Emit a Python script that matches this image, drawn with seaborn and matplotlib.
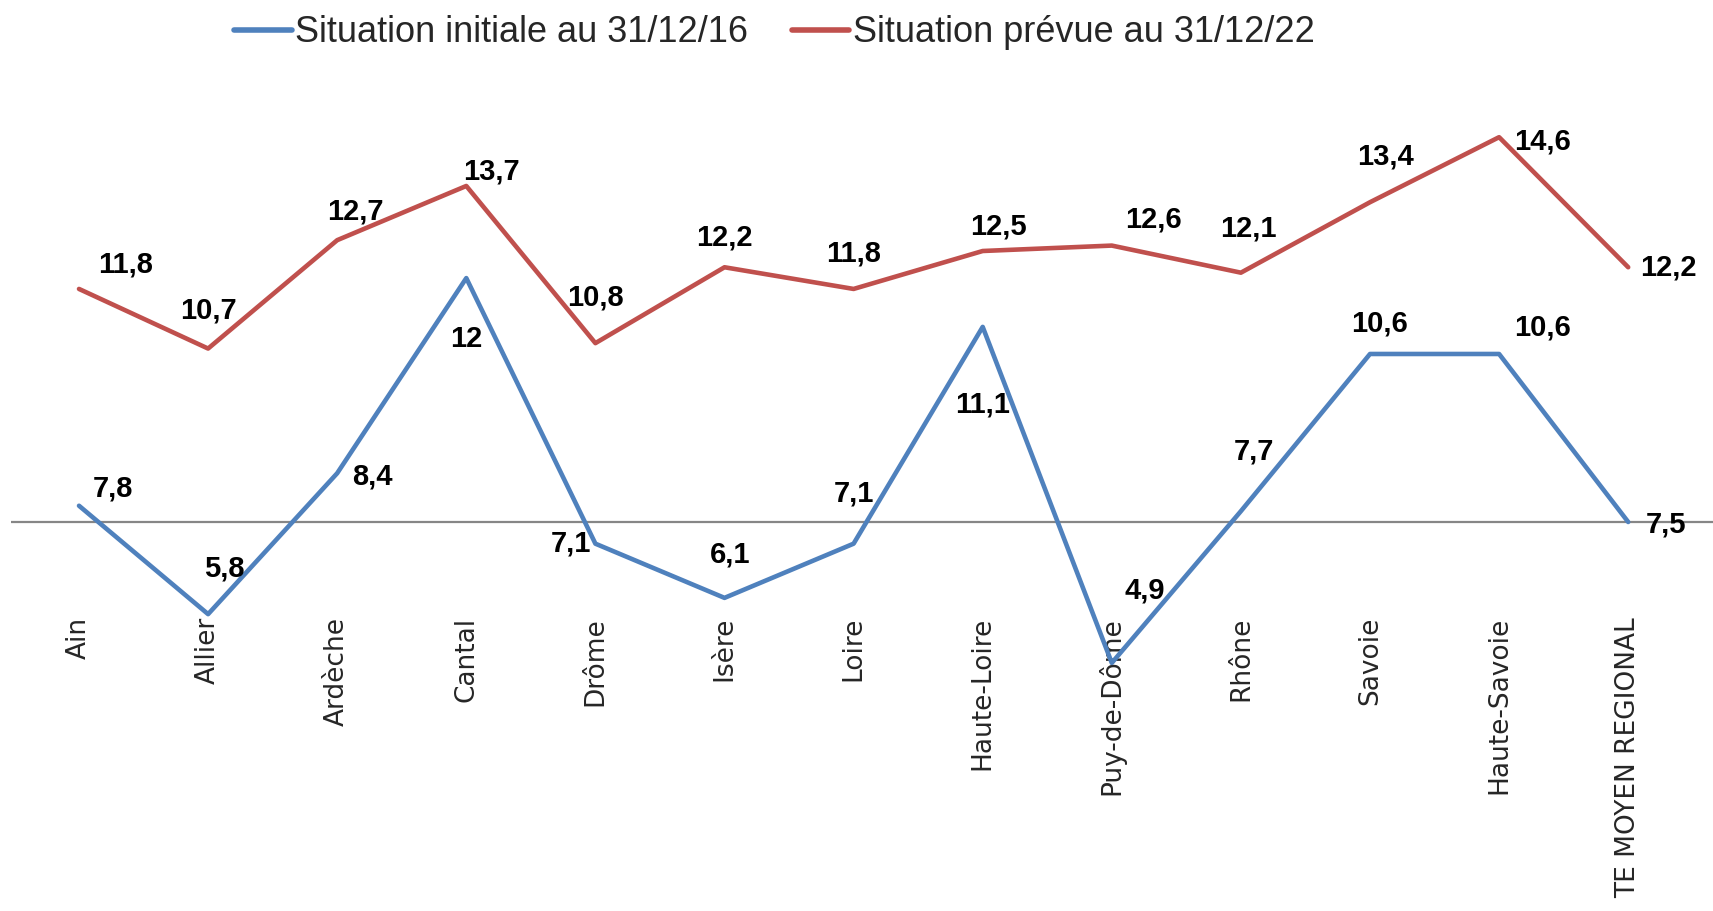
import numpy as np
import pandas as pd
import seaborn as sns
import matplotlib
matplotlib.use("Agg")
import matplotlib.pyplot as plt

# departements + moyenne regionale
departements = ["Ain", "Allier", "Ardèche", "Cantal", "Drôme", "Isère", "Loire",
                "Haute-Loire", "Puy-de-Dôme", "Rhône", "Savoie", "Haute-Savoie",
                "TE MOYEN REGIONAL"]
initiale_2016 = [7.8, 5.8, 8.4, 12, 7.1, 6.1, 7.1, 11.1, 4.9, 7.7, 10.6, 10.6, 7.5]
prevue_2022 = [11.8, 10.7, 12.7, 13.7, 10.8, 12.2, 11.8, 12.5, 12.6, 12.1, 13.4, 14.6, 12.2]
serie_noms = ["Situation initiale au 31/12/16", "Situation prévue au 31/12/22"]
niveau_axe = 7.5

# decalage des etiquettes (pixels) -- a la main pour coller a l'original
off_bleu = [(31, -16), (15, -42), (32, 3), (0, 56), (-22, 0), (5, -40), (0, -46),
            (0, 71), (30, -66), (12, -55), (9, -28), (40, -24), (35, 2)]
off_rouge = [(43, -22), (0, -35), (17, -26), (23, -13), (0, -42), (0, -27), (0, -32),
             (14, -22), (38, -24), (7, -40), (14, -42), (40, 4), (37, 0)]

df = pd.DataFrame({
    "pos": list(range(len(departements))) * 2,
    "valeur": initiale_2016 + prevue_2022,
    "serie": [serie_noms[0]] * len(departements) + [serie_noms[1]] * len(departements),
})

sns.set_style("white")
plt.rcParams["font.family"] = ["Liberation Sans Narrow", "Liberation Sans", "DejaVu Sans"]

fig = plt.figure(figsize=(17.13, 9.11), dpi=100)
ax = fig.add_axes([11 / 1713, 1 - 617 / 911, 1 - 11 / 1713, (617 - 80) / 911])

couleurs = {serie_noms[0]: "#4F81BD", serie_noms[1]: "#C0504D"}
sns.lineplot(data=df, x="pos", y="valeur", hue="serie", palette=couleurs,
             linewidth=3.3, ax=ax, legend=True, clip_on=False, zorder=3)

ax.axhline(niveau_axe, color="#868686", linewidth=1.6, zorder=1)

# etiquettes des valeurs
px = 1713 / 1568 * 0.72
def fmt(v):
    return str(int(v)) if float(v).is_integer() else f"{v:.1f}".replace(".", ",")

for vals, offs in [(initiale_2016, off_bleu), (prevue_2022, off_rouge)]:
    for i, (v, o) in enumerate(zip(vals, offs)):
        ax.annotate(fmt(v), (i, v), xytext=(o[0] * px, -o[1] * px),
                    textcoords="offset points", ha="center", va="center",
                    fontsize=21, fontweight="bold", color="black", zorder=5,
                    annotation_clip=False)

px_unit = 54.2
ax.set_xlim((11 - 79) / 129.1, (1713 - 79) / 129.1)
ax.set_ylim(niveau_axe - (617 - 522) / px_unit, niveau_axe + (522 - 80) / px_unit)

ax.set_xticks(range(len(departements)))
ax.set_xticklabels(departements, rotation=90, fontsize=19, family="DejaVu Sans",
                   va="top", ha="center")
ax.tick_params(axis="x", length=0, pad=0)
ax.set_yticks([])
ax.set_xlabel("")
ax.set_ylabel("")
for s in ax.spines.values():
    s.set_visible(False)

handles, labels = ax.get_legend_handles_labels()
for h in handles:
    h.set_linewidth(4)
ax.get_legend().remove()
fig.legend(handles, labels, loc="center", bbox_to_anchor=(0.452, 0.964), ncol=2,
           frameon=False, fontsize=26, handlelength=1.6, handletextpad=0.1,
           columnspacing=1.2)

fig.savefig("out.png", dpi=100)
